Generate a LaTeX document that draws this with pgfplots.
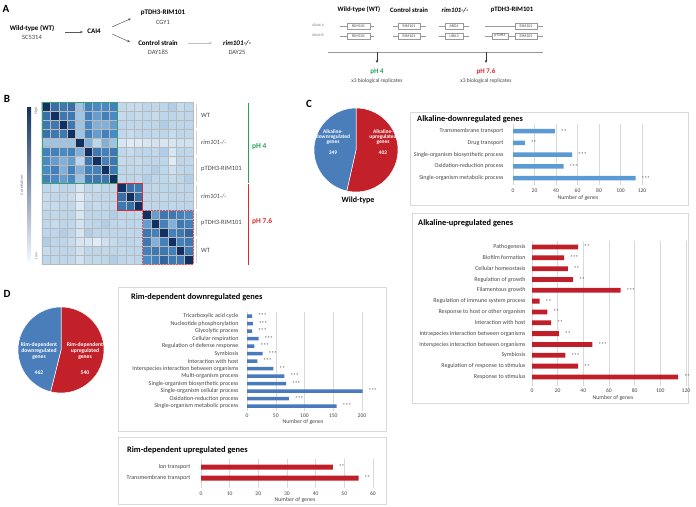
\documentclass[border=0pt]{standalone}
\usepackage{fontspec}
\setmainfont{Carlito}
\usepackage{pgfplots}
\pgfplotsset{compat=1.18}
\usetikzlibrary{arrows.meta}
\definecolor{barblue}{RGB}{91,155,213}
\definecolor{barblueD}{RGB}{74,122,190}
\definecolor{barred}{RGB}{192,30,40}
\definecolor{pieblue}{RGB}{74,126,187}
\definecolor{piered}{RGB}{195,33,42}
\definecolor{phgreen}{RGB}{40,160,90}
\definecolor{phred}{RGB}{225,40,45}
\definecolor{hmgreen}{RGB}{55,160,110}
\definecolor{boxgray}{RGB}{217,217,217}
\definecolor{txtgray}{RGB}{70,70,70}
\definecolor{hmdark}{RGB}{20,50,100}
\definecolor{hmmid}{RGB}{75,140,200}
\definecolor{hmlight}{RGB}{240,247,252}
\newcommand{\fs}[1]{\fontsize{#1}{#1}\selectfont}
\pgfplotsset{
  gobar/.style={
    scale only axis, anchor=north west, xbar, y dir=reverse,
    axis line style={draw=none}, major tick length=0,
    xmajorgrids, major grid style={boxgray, line width=0.5pt},
    xmin=0, ytick=data,
    /pgf/number format/assume math mode=true,
    xticklabel style={font=\fs{5.6}, text=txtgray},
    yticklabel style={font=\fs{6}, text=txtgray},
    point meta=explicit symbolic,
    nodes near coords,
    nodes near coords style={font=\fs{5.6}, text=txtgray, anchor=west, xshift=2.5pt},
    bar shift=0pt,
  }
}
\begin{document}
\begin{tikzpicture}
\begin{scope}[x=1pt,y=-1pt,every node/.style={inner sep=0pt}]
\path[use as bounding box] (0,0) rectangle (696,506);
% ---------- Panel A ----------
\node[font=\bfseries\fs{11}] at (6,9) {A};
\node[font=\bfseries\fs{7}] at (32,28) {Wild-type (WT)};
\node[font=\fs{6.5},text=txtgray] at (32,37.5) {SC5314};
\draw[-{Stealth[length=3pt,width=2.5pt]},gray!70!black,line width=0.5pt] (65,32) -- (83,32);
\node[font=\bfseries\fs{7}] at (94,31) {CAI4};
\draw[-{Stealth[length=3pt,width=2.5pt]},gray!70!black,line width=0.5pt] (112,27) -- (131,18.5);
\draw[-{Stealth[length=3pt,width=2.5pt]},gray!70!black,line width=0.5pt] (112,34) -- (130,42);
\node[font=\bfseries\fs{7}] at (163,13) {pTDH3-RIM101};
\node[font=\fs{6.5},text=txtgray] at (163,22.5) {CGY1};
\node[font=\bfseries\fs{7}] at (158,43) {Control strain};
\node[font=\fs{6.5},text=txtgray] at (158,52.5) {DAY185};
\draw[-{Stealth[length=3pt,width=2.5pt]},gray!50,line width=0.6pt] (188,43) -- (212,43);
\node[font=\bfseries\itshape\fs{7}] at (237,43) {rim101-/-};
\node[font=\fs{6.5},text=txtgray] at (237,52.5) {DAY25};
% right schematic
\node[font=\bfseries\fs{6.7}] at (359,10) {Wild-type (WT)};
\node[font=\bfseries\fs{6.7}] at (409,10) {Control strain};
\node[font=\bfseries\itshape\fs{6.7}] at (455,10) {rim101-/-};
\node[font=\bfseries\fs{6.7}] at (512,10) {pTDH3-RIM101};
\node[font=\fs{3.8},text=gray] at (318,25.5) {Allele A};
\node[font=\fs{3.8},text=gray] at (318,35) {Allele B};
\tikzset{gbox/.style={draw=gray!80,fill=white,line width=0.4pt,font=\fs{4},text=txtgray,minimum height=5.5pt,inner sep=0pt}}
\foreach \yy in {26,36}{
  \draw[gray!80,line width=0.4pt] (340,\yy) -- (374,\yy);
  \node[gbox,minimum width=23pt] at (358.5,\yy) {RIM101};
  \draw[gray!80,line width=0.4pt] (393,\yy) -- (426,\yy);
  \node[gbox,minimum width=22pt] at (409,\yy) {RIM101};
  \draw[gray!80,line width=0.4pt] (439,\yy) -- (469,\yy);
  \draw[gray!80,line width=0.4pt] (485,\yy) -- (543,\yy);
  \node[gbox,minimum width=22pt] at (526,\yy) {RIM101};
}
\node[gbox,minimum width=18pt] at (454,26) {ARG4};
\node[gbox,minimum width=18pt] at (454,36) {URA3};
\node[gbox,minimum width=16pt] at (500,36) {pTDH3};
\draw[gray!80,line width=0.6pt] (328,52) -- (543,52);
\draw[-{Stealth[length=3pt,width=2.5pt]},black!80,line width=0.4pt] (377,52) -- (377,63);
\draw[-{Stealth[length=3pt,width=2.5pt]},black!80,line width=0.4pt] (486,52) -- (486,63);
\node[font=\bfseries\fs{7},text=phgreen] at (377,72) {pH 4};
\node[font=\fs{5.6},text=txtgray] at (377,81) {x3 biological replicates};
\node[font=\bfseries\fs{7},text=phred] at (486,72) {pH 7.6};
\node[font=\fs{5.6},text=txtgray] at (486,81) {x3 biological replicates};
% ---------- Panel B decorations ----------
\node[font=\bfseries\fs{11}] at (7,99) {B};
\shade[top color=hmdark, middle color=hmmid, bottom color=hmlight] (27,107) rectangle (31,260);
\node[font=\fs{4},text=gray,rotate=90] at (36,111) {High};
\node[font=\fs{4},text=gray,rotate=90] at (36,256) {Low};
\node[font=\fs{4.5},text=gray,rotate=90] at (21.5,185) {Correlation};
\foreach \k in {0,...,5}{
  \draw[gray!35,line width=0.6pt] (196,{102+27*\k+1.5}) -- (196,{102+27*(\k+1)-1.5});
}
\node[anchor=west,font=\fs{6.5},text=txtgray] at (201,115) {WT};
\node[anchor=west,font=\itshape\fs{6.5},text=txtgray] at (201,142) {rim101-/-};
\node[anchor=west,font=\fs{6.5},text=txtgray] at (201,169) {pTDH3-RIM101};
\node[anchor=west,font=\itshape\fs{6.5},text=txtgray] at (201,196) {rim101-/-};
\node[anchor=west,font=\fs{6.5},text=txtgray] at (201,223) {pTDH3-RIM101};
\node[anchor=west,font=\fs{6.5},text=txtgray] at (201,250) {WT};
\draw[phgreen,line width=0.7pt] (248,103) -- (248,183);
\draw[phred,line width=0.7pt] (248,184) -- (248,265);
\node[anchor=west,font=\bfseries\fs{7.5},text=phgreen] at (252,147) {pH 4};
\node[anchor=west,font=\bfseries\fs{7.5},text=phred] at (252,222) {pH 7.6};
% ---------- Panel C ----------
\node[font=\bfseries\fs{11}] at (309,104) {C};
\fill[piered,draw=white,line width=0.5pt] (356,150) -- ++(90:42pt) arc[start angle=90, end angle={90-402/751*360}, radius=42pt] -- cycle;
\fill[pieblue,draw=white,line width=0.5pt] (356,150) -- ++(90:42pt) arc[start angle=90, end angle={90+349/751*360}, radius=42pt] -- cycle;
\node[font=\bfseries\fs{5.4},text=white,align=center] at (333,137) {Alkaline-\\downregulated\\genes};
\node[font=\bfseries\fs{5.4},text=white] at (333,153) {349};
\node[font=\bfseries\fs{5.4},text=white,align=center] at (383,137) {Alkaline-\\upregulated\\genes};
\node[font=\bfseries\fs{5.4},text=white] at (383,153) {402};
\node[font=\bfseries\fs{8}] at (358,200) {Wild-type};
\draw[boxgray,line width=0.6pt] (410,112) rectangle (688,205);
\node[anchor=west,font=\bfseries\fs{8.4}] at (417,119) {Alkaline-downregulated genes};
\node[font=\fs{5.8},text=txtgray] at (578,198) {Number of genes};
\draw[boxgray,line width=0.6pt] (412,213) rectangle (688,403);
\node[anchor=west,font=\bfseries\fs{8.4}] at (418,223) {Alkaline-upregulated genes};
\node[font=\fs{5.8},text=txtgray] at (613,398) {Number of genes};
% ---------- Panel D ----------
\node[font=\bfseries\fs{11}] at (7,294) {D};
\fill[piered,draw=white,line width=0.5pt] (61,350) -- ++(90:43pt) arc[start angle=90, end angle={90-540/1002*360}, radius=43pt] -- cycle;
\fill[pieblue,draw=white,line width=0.5pt] (61,350) -- ++(90:43pt) arc[start angle=90, end angle={90+462/1002*360}, radius=43pt] -- cycle;
\node[font=\bfseries\fs{5.6},text=white,align=center] at (39,351) {Rim-dependent\\downregulated\\genes};
\node[font=\bfseries\fs{5.6},text=white] at (39,373) {462};
\node[font=\bfseries\fs{5.6},text=white,align=center] at (85,351) {Rim-dependent\\upregulated\\genes};
\node[font=\bfseries\fs{5.6},text=white] at (85,373) {540};
\draw[boxgray,line width=0.6pt] (118,287) rectangle (386,431);
\node[anchor=west,font=\bfseries\fs{8.4}] at (131,297) {Rim-dependent downregulated genes};
\node[font=\fs{5.8},text=txtgray] at (303,422) {Number of genes};
\draw[boxgray,line width=0.6pt] (118,437) rectangle (386,504);
\node[anchor=west,font=\bfseries\fs{8.4}] at (127,450) {Rim-dependent upregulated genes};
\node[font=\fs{5.8},text=txtgray] at (295,500) {Number of genes};
\end{scope}

% ---------- Heatmap ----------
\begin{axis}[at={(42pt,-102pt)}, anchor=north west, scale only axis, width=151pt, height=162pt,
  xmin=-0.5, xmax=17.5, ymin=-0.5, ymax=17.5, y dir=reverse,
  xtick={-0.5,0.5,...,17.5}, ytick={-0.5,0.5,...,17.5}, xticklabels={}, yticklabels={},
  major tick length=0, grid=major, major grid style={gray!55, line width=0.4pt},
  axis on top, axis line style={draw=none},
  colormap={hm}{rgb255(0cm)=(240,247,252) rgb255(3cm)=(188,214,235) rgb255(5cm)=(72,138,198) rgb255(10cm)=(18,48,98)},
  point meta min=0, point meta max=1]
\addplot[matrix plot*, mesh/cols=18, point meta=explicit] coordinates {
(0,0)[1] (1,0)[0.65] (2,0)[0.6] (3,0)[0.65] (4,0)[0.35] (5,0)[0.55] (6,0)[0.5] (7,0)[0.5] (8,0)[0.55] (9,0)[0.28] (10,0)[0.25] (11,0)[0.25] (12,0)[0.3] (13,0)[0.28] (14,0)[0.3] (15,0)[0.32] (16,0)[0.25] (17,0)[0.3]
(0,1)[0.65] (1,1)[1] (2,1)[0.6] (3,1)[0.6] (4,1)[0.35] (5,1)[0.55] (6,1)[0.45] (7,1)[0.55] (8,1)[0.5] (9,1)[0.25] (10,1)[0.28] (11,1)[0.25] (12,1)[0.28] (13,1)[0.25] (14,1)[0.3] (15,1)[0.3] (16,1)[0.28] (17,1)[0.28]
(0,2)[0.6] (1,2)[0.6] (2,2)[1] (3,2)[0.6] (4,2)[0.35] (5,2)[0.5] (6,2)[0.4] (7,2)[0.4] (8,2)[0.45] (9,2)[0.3] (10,2)[0.28] (11,2)[0.28] (12,2)[0.3] (13,2)[0.3] (14,2)[0.32] (15,2)[0.3] (16,2)[0.3] (17,2)[0.3]
(0,3)[0.65] (1,3)[0.6] (2,3)[0.6] (3,3)[1] (4,3)[0.35] (5,3)[0.55] (6,3)[0.45] (7,3)[0.55] (8,3)[0.5] (9,3)[0.28] (10,3)[0.25] (11,3)[0.28] (12,3)[0.3] (13,3)[0.28] (14,3)[0.3] (15,3)[0.25] (16,3)[0.3] (17,3)[0.28]
(0,4)[0.35] (1,4)[0.35] (2,4)[0.35] (3,4)[0.35] (4,4)[1] (5,4)[0.4] (6,4)[0.3] (7,4)[0.4] (8,4)[0.35] (9,4)[0.15] (10,4)[0.1] (11,4)[0.12] (12,4)[0.15] (13,4)[0.18] (14,4)[0.15] (15,4)[0.15] (16,4)[0.2] (17,4)[0.18]
(0,5)[0.55] (1,5)[0.55] (2,5)[0.5] (3,5)[0.55] (4,5)[0.4] (5,5)[1] (6,5)[0.6] (7,5)[0.55] (8,5)[0.6] (9,5)[0.28] (10,5)[0.25] (11,5)[0.3] (12,5)[0.3] (13,5)[0.28] (14,5)[0.32] (15,5)[0.15] (16,5)[0.3] (17,5)[0.28]
(0,6)[0.5] (1,6)[0.45] (2,6)[0.4] (3,6)[0.45] (4,6)[0.3] (5,6)[0.6] (6,6)[1] (7,6)[0.55] (8,6)[0.6] (9,6)[0.25] (10,6)[0.28] (11,6)[0.25] (12,6)[0.3] (13,6)[0.3] (14,6)[0.3] (15,6)[0.1] (16,6)[0.3] (17,6)[0.28]
(0,7)[0.5] (1,7)[0.55] (2,7)[0.4] (3,7)[0.55] (4,7)[0.4] (5,7)[0.55] (6,7)[0.55] (7,7)[1] (8,7)[0.6] (9,7)[0.3] (10,7)[0.28] (11,7)[0.28] (12,7)[0.3] (13,7)[0.32] (14,7)[0.3] (15,7)[0.2] (16,7)[0.28] (17,7)[0.3]
(0,8)[0.55] (1,8)[0.5] (2,8)[0.45] (3,8)[0.5] (4,8)[0.35] (5,8)[0.6] (6,8)[0.6] (7,8)[0.6] (8,8)[1] (9,8)[0.28] (10,8)[0.3] (11,8)[0.28] (12,8)[0.32] (13,8)[0.3] (14,8)[0.3] (15,8)[0.25] (16,8)[0.3] (17,8)[0.32]
(0,9)[0.28] (1,9)[0.25] (2,9)[0.3] (3,9)[0.28] (4,9)[0.15] (5,9)[0.28] (6,9)[0.25] (7,9)[0.3] (8,9)[0.28] (9,9)[1] (10,9)[0.65] (11,9)[0.6] (12,9)[0.3] (13,9)[0.28] (14,9)[0.3] (15,9)[0.3] (16,9)[0.28] (17,9)[0.3]
(0,10)[0.25] (1,10)[0.28] (2,10)[0.28] (3,10)[0.25] (4,10)[0.1] (5,10)[0.25] (6,10)[0.28] (7,10)[0.28] (8,10)[0.3] (9,10)[0.65] (10,10)[1] (11,10)[0.65] (12,10)[0.3] (13,10)[0.3] (14,10)[0.28] (15,10)[0.3] (16,10)[0.3] (17,10)[0.28]
(0,11)[0.25] (1,11)[0.25] (2,11)[0.28] (3,11)[0.28] (4,11)[0.12] (5,11)[0.3] (6,11)[0.25] (7,11)[0.28] (8,11)[0.28] (9,11)[0.6] (10,11)[0.65] (11,11)[1] (12,11)[0.28] (13,11)[0.3] (14,11)[0.3] (15,11)[0.28] (16,11)[0.3] (17,11)[0.3]
(0,12)[0.3] (1,12)[0.28] (2,12)[0.3] (3,12)[0.3] (4,12)[0.15] (5,12)[0.3] (6,12)[0.3] (7,12)[0.3] (8,12)[0.32] (9,12)[0.3] (10,12)[0.3] (11,12)[0.28] (12,12)[1] (13,12)[0.45] (14,12)[0.6] (15,12)[0.6] (16,12)[0.55] (17,12)[0.5]
(0,13)[0.28] (1,13)[0.25] (2,13)[0.3] (3,13)[0.28] (4,13)[0.18] (5,13)[0.28] (6,13)[0.3] (7,13)[0.32] (8,13)[0.3] (9,13)[0.28] (10,13)[0.3] (11,13)[0.3] (12,13)[0.45] (13,13)[1] (14,13)[0.55] (15,13)[0.4] (16,13)[0.6] (17,13)[0.55]
(0,14)[0.3] (1,14)[0.3] (2,14)[0.32] (3,14)[0.3] (4,14)[0.15] (5,14)[0.32] (6,14)[0.3] (7,14)[0.3] (8,14)[0.3] (9,14)[0.3] (10,14)[0.28] (11,14)[0.3] (12,14)[0.6] (13,14)[0.55] (14,14)[1] (15,14)[0.55] (16,14)[0.6] (17,14)[0.7]
(0,15)[0.32] (1,15)[0.3] (2,15)[0.3] (3,15)[0.25] (4,15)[0.15] (5,15)[0.15] (6,15)[0.1] (7,15)[0.2] (8,15)[0.25] (9,15)[0.3] (10,15)[0.3] (11,15)[0.28] (12,15)[0.6] (13,15)[0.4] (14,15)[0.55] (15,15)[1] (16,15)[0.55] (17,15)[0.6]
(0,16)[0.25] (1,16)[0.28] (2,16)[0.3] (3,16)[0.3] (4,16)[0.2] (5,16)[0.3] (6,16)[0.3] (7,16)[0.28] (8,16)[0.3] (9,16)[0.28] (10,16)[0.3] (11,16)[0.3] (12,16)[0.55] (13,16)[0.6] (14,16)[0.6] (15,16)[0.55] (16,16)[1] (17,16)[0.6]
(0,17)[0.3] (1,17)[0.28] (2,17)[0.3] (3,17)[0.28] (4,17)[0.18] (5,17)[0.28] (6,17)[0.28] (7,17)[0.3] (8,17)[0.32] (9,17)[0.3] (10,17)[0.28] (11,17)[0.3] (12,17)[0.5] (13,17)[0.55] (14,17)[0.7] (15,17)[0.6] (16,17)[0.6] (17,17)[1]
};
\end{axis}
\begin{scope}[x=1pt,y=-1pt]
\draw[hmgreen,line width=0.8pt] (42,102) rectangle (117.5,183);
\draw[phred,line width=0.8pt] (117.5,183) rectangle (142.67,210);
\draw[phred!80,line width=0.8pt,dashed,dash pattern=on 2pt off 1pt] (142.67,210) rectangle (193,264);
\end{scope}

% ---------- C1 ----------
\begin{axis}[gobar, at={(513pt,-124pt)}, width=134.4pt, height=61.1pt, xmax=125, xtick={0,20,...,120},
  ymin=-0.6, ymax=4.6, bar width=4.5pt, yticklabel style={xshift=-6pt},
  yticklabels={Transmembrane transport, Drug transport, Single-organism biosynthetic process, Oxidation-reduction process, Single-organism metabolic process}]
\addplot[fill=barblue, draw=none] coordinates {(39,0)[**] (11,1)[**] (55,2)[***] (47,3)[***] (114,4)[***]};
\end{axis}
% ---------- C2 ----------
\begin{axis}[gobar, at={(532pt,-240.5pt)}, width=155.2pt, height=145.1pt, xmax=121, xtick={0,20,...,120},
  ymin=-0.6, ymax=12.8, bar width=4.8pt, yticklabel style={xshift=-3pt},
  yticklabels={Pathogenesis, Biofilm formation, Cellular homeostasis, Regulation of growth, Filamentous growth, Regulation of immune system process, Response to host or other organism, Interaction with host, Intraspecies interaction between organisms, Interspecies interaction between organisms, Symbiosis, Regulation of response to stimulus, Response to stimulus}]
\addplot[fill=barred, draw=none] coordinates {(36,0)[**] (25,1)[***] (28,2)[**] (32,3)[**] (69,4)[***] (6,5)[**] (12,6)[**] (15,7)[**] (21,8)[**] (47,9)[***] (26,10)[***] (36,11)[**] (114,12)[**]};
\end{axis}
% ---------- D1 ----------
\begin{axis}[gobar, at={(247pt,-311.5pt)}, width=120.75pt, height=99pt, xmax=210, xtick={0,50,...,200},
  ymin=-0.6, ymax=12.6, bar width=3.5pt, yticklabel style={xshift=-5pt},
  yticklabels={Tricarboxylic acid cycle, Nucleotide phosphorylation, Glycolytic process, Cellular respiration, Regulation of defense response, Symbiosis, Interaction with host, Interspecies interaction between organisms, Multi-organism process, Single-organism biosynthetic process, Single-organism cellular process, Oxidation-reduction process, Single-organism metabolic process}]
\addplot[fill=barblueD, draw=none] coordinates {(9,0)[***] (10,1)[***] (9,2)[***] (20,3)[***] (13,4)[***] (27,5)[***] (18,6)[***] (46,7)[**] (65,8)[***] (68,9)[***] (201,10)[***] (73,11)[***] (156,12)[***]};
\end{axis}
% ---------- D2 ----------
\begin{axis}[gobar, at={(201pt,-459.3pt)}, width=172pt, height=28.6pt, xmax=60, xtick={0,10,...,60},
  ymin=-0.7, ymax=1.9, bar width=5pt, yticklabel style={xshift=-7pt},
  yticklabels={Ion transport, Transmembrane transport}]
\addplot[fill=barred, draw=none] coordinates {(46,0)[**] (55,1)[**]};
\end{axis}
\end{tikzpicture}
\end{document}
